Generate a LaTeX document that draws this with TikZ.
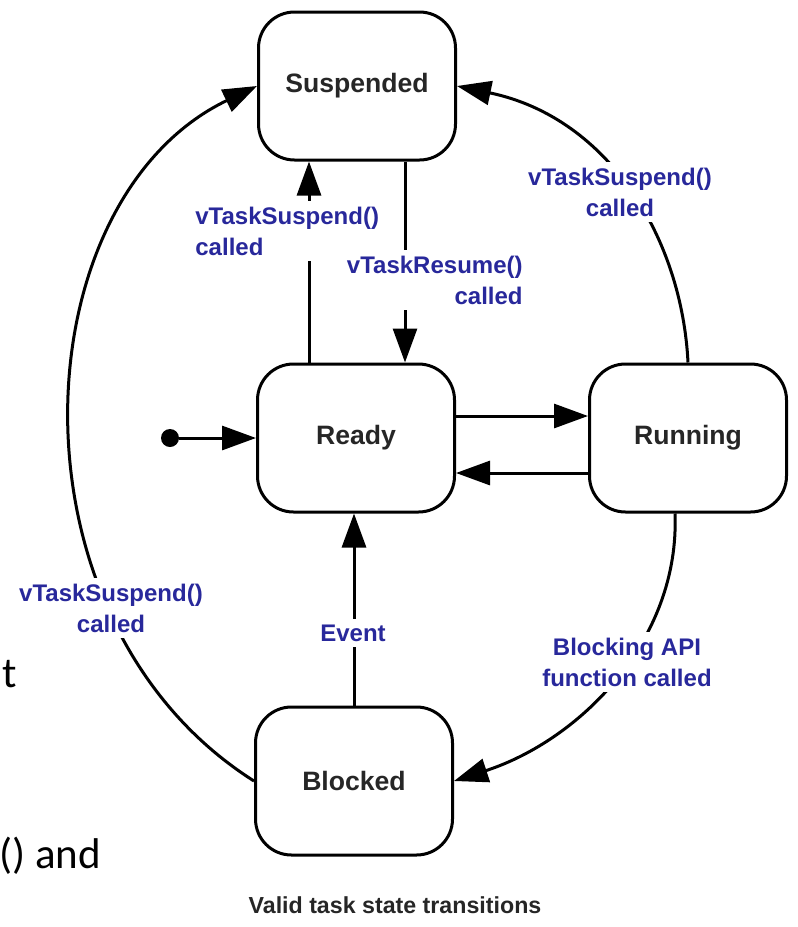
\documentclass[tikz,border=0pt]{standalone}
\usepackage{fontspec}
\setmainfont{Liberation Sans}
\newfontfamily\slidefont{Carlito}
\usetikzlibrary{arrows.meta}
\definecolor{lblblue}{RGB}{40,40,155}
\definecolor{txtdark}{RGB}{38,38,38}
\tikzset{
  state/.style={draw, line width=1.5pt, rounded corners=18pt, minimum width=98.5pt,
    minimum height=74pt, inner sep=0pt, text=txtdark,
    font=\fontsize{13.3}{16}\selectfont\bfseries},
  conn/.style={line width=1.5pt},
  arr/.style={conn, -{Triangle[length=17pt,width=12pt]}},
  lbl/.style={fill=white, inner xsep=2pt, inner ysep=3pt, text=lblblue,
    font=\fontsize{12}{15.5}\selectfont\bfseries},
  slide/.style={inner sep=0pt, anchor=base west, font=\slidefont\fontsize{21.5}{24}\selectfont}
}
\begin{document}
\begin{tikzpicture}[x=0.5pt,y=-0.5pt]
\useasboundingbox (0,0) rectangle (798,927);
% states
\node[state] (susp) at (357,86) {Suspended};
\node[state] (ready) at (356,438) {Ready};
\node[state] (run) at (688,438) {Running};
\node[state] (block) at (354,781) {Blocked};
\node[circle, fill, inner sep=0pt, minimum size=9pt] (init) at (170,438) {};
% connectors
\draw[arr] (init) -- (ready.west);
\draw[arr] ([xshift=-23.5pt]ready.north) -- ([xshift=-23.5pt]ready.north |- susp.south);
\draw[arr] ([xshift=24pt]susp.south) -- ([xshift=24pt]susp.south |- ready.north);
\draw[arr] ([yshift=11pt]ready.east) -- ([yshift=11pt]ready.east -| run.west);
\draw[arr] ([yshift=-17.5pt]run.west) -- ([yshift=-17.5pt]run.west -| ready.east);
\draw[arr] (block.north) -- (block.north |- ready.south);
\draw[arr] (run.north) .. controls (682,240) and (610,118) .. (susp.east);
\draw[arr] (block.west) .. controls (0,620) and (20,200) .. (susp.west);
\draw[arr] ([xshift=-6.5pt]run.south) .. controls (680,640) and (580,740) .. (block.east);
% labels
\node[lbl, anchor=west, align=left] (l1) at (191,231) {vTaskSuspend()\\called};
\node[lbl, anchor=east, align=right] (l2) at (527,280) {vTaskResume()\\called};
\node[lbl, align=center] (l3) at (620,192) {vTaskSuspend()\\called};
\node[lbl, align=center] (l4) at (111,608) {vTaskSuspend()\\called};
\node[lbl, align=center] (l5) at (627,662) {Blocking API\\function called};
\node[lbl] (l6) at (353,633) {Event};
% caption
\node[text=txtdark, font=\fontsize{11.6}{14}\selectfont\bfseries] (cap) at (395,905) {Valid task state transitions};
% slide fragments
\node[slide] (s1) at (2,687) {t};
\node[slide] (s2) at (-1,868) {() and};
\end{tikzpicture}
\end{document}
